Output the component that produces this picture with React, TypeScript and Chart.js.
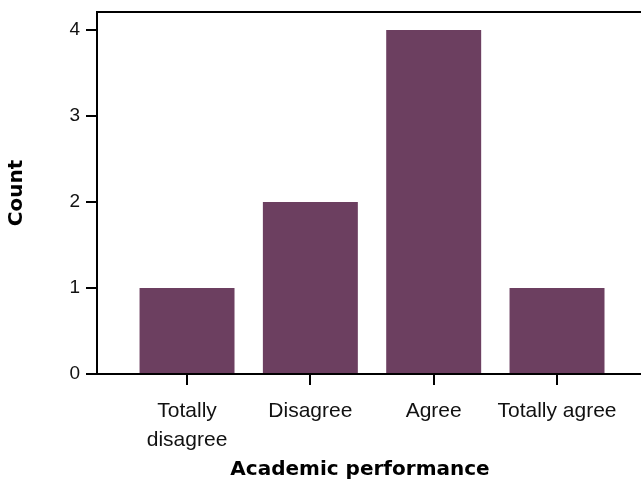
import React, { useEffect, useRef } from 'react';
import { Chart, registerables } from 'chart.js';

Chart.register(...registerables);

const categories: (string | string[])[] = [['Totally', 'disagree'], 'Disagree', 'Agree', 'Totally agree'];
const counts = [1, 2, 4, 1];
const yTickValues = [0, 1, 2, 3, 4];
const xTitle = 'Academic performance';
const yTitle = 'Count';

const BAR_COLOR = '#6c3f60';
const TICK_FONT = 'Liberation Sans, Arial, Helvetica, sans-serif';
const TITLE_FONT = 'DejaVu Sans, Liberation Sans, sans-serif';

export default function App() {
  const ref = useRef<HTMLCanvasElement>(null);

  useEffect(() => {
    if (!ref.current) return;
    const frame = {
      id: 'frame',
      afterDraw(chart: any) {
        const { ctx, chartArea } = chart;
        ctx.save();
        ctx.strokeStyle = '#000';
        ctx.lineWidth = 2;
        ctx.beginPath();
        ctx.moveTo(chartArea.left - 1, chartArea.top);
        ctx.lineTo(chart.width, chartArea.top);
        ctx.moveTo(chartArea.right - 1, chartArea.bottom);
        ctx.lineTo(chart.width, chartArea.bottom);
        ctx.stroke();
        ctx.restore();
      },
    };
    const chart = new Chart(ref.current, {
      type: 'bar',
      data: {
        datasets: [
          {
            data: counts.map((y, i) => ({ x: i, y })),
            backgroundColor: BAR_COLOR,
            categoryPercentage: 1,
            barPercentage: 0.77,
          },
        ],
      },
      options: {
        animation: false,
        responsive: false,
        maintainAspectRatio: false,
        layout: { padding: { top: 12, right: 18, left: 0, bottom: 0 } },
        plugins: { legend: { display: false }, tooltip: { enabled: false } },
        scales: {
          x: {
            type: 'linear',
            bounds: 'data',
            offset: false,
            min: -0.73,
            max: 3.535,
            afterBuildTicks: (s: any) => {
              s.ticks = categories.map((_, i) => ({ value: i }));
            },
            afterFit: (s: any) => {
              s.height = 108;
              s.paddingLeft = 0;
              s.paddingRight = 0;
            },
            ticks: {
              callback: (v: any) => categories[v as number],
              font: { family: TICK_FONT, size: 21, lineHeight: 1.38 },
              color: '#111',
              padding: 12,
              maxRotation: 0,
              autoSkip: false,
            },
            grid: {
              display: true,
              offset: false,
              drawOnChartArea: false,
              drawTicks: true,
              tickLength: 11,
              lineWidth: 2,
              tickWidth: 2,
              color: '#000',
              tickColor: '#000',
            },
            border: { display: true, color: '#000', width: 2 },
            title: {
              display: true,
              text: xTitle,
              color: '#000',
              font: { family: TITLE_FONT, size: 20, weight: 'bold' },
              padding: { top: 0, bottom: 0 },
            },
          },
          y: {
            type: 'linear',
            min: 0,
            max: 4.21,
            afterBuildTicks: (s: any) => {
              s.ticks = yTickValues.map((v) => ({ value: v }));
            },
            afterFit: (s: any) => {
              s.width = 97;
              s.paddingTop = 0;
              s.paddingBottom = 0;
            },
            ticks: {
              font: { family: TICK_FONT, size: 19 },
              color: '#111',
              padding: 6,
            },
            grid: {
              display: true,
              drawOnChartArea: false,
              drawTicks: true,
              tickLength: 11,
              lineWidth: 2,
              tickWidth: 2,
              color: '#000',
              tickColor: '#000',
            },
            border: { display: true, color: '#000', width: 2 },
            title: {
              display: true,
              text: yTitle,
              color: '#000',
              font: { family: TITLE_FONT, size: 20, weight: 'bold' },
              padding: { top: 5, bottom: 0 },
            },
          },
        },
      },
      plugins: [frame],
    } as any);
    return () => chart.destroy();
  }, []);

  return (
    <div style={{ position: 'fixed', left: 0, top: 0, width: 641, height: 482, background: '#fff' }}>
      <canvas ref={ref} width={641} height={482} style={{ width: 641, height: 482, display: 'block' }} />
    </div>
  );
}
